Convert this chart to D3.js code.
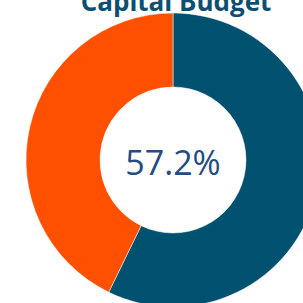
<!DOCTYPE html>
<html>
<head>
<meta charset="utf-8">
<script src="https://cdn.jsdelivr.net/npm/d3@7"></script>
<style>
  html, body { margin: 0; padding: 0; background: #fff; }
  svg { display: block; }
</style>
</head>
<body>
<div id="chart"></div>
<script>
const categories = ["Spent", "Remaining"]
const values = [57.2, 42.8]
const colors = ["#00506f", "#ff5000"]
const title = "Capital Budget"
const centerLabel = "57.2%"

const width = 303, height = 303
const cx = 173, cy = 160
const outerR = 147, innerR = 73

const svg = d3.select("#chart")
  .append("svg")
  .attr("width", width)
  .attr("height", height)

const pie = d3.pie().sort(null).value(d => d)
const arc = d3.arc().innerRadius(innerR).outerRadius(outerR)

const g = svg.append("g")
  .attr("transform", `translate(${cx},${cy})`)

g.selectAll("path")
  .data(pie(values))
  .join("path")
    .attr("fill", (d, i) => colors[i])
    .attr("stroke", "#fff")
    .attr("stroke-width", 0.5)
    .attr("d", arc)
  .append("title")
    .text((d, i) => `${categories[i]}: ${values[i]}%`)

g.append("text")
  .attr("text-anchor", "middle")
  .attr("y", 15)
  .attr("font-family", "Open Sans")
  .attr("font-size", 34)
  .attr("fill", "#234d80")
  .text(centerLabel)

// title sits partly above the top edge, as in the original
svg.append("text")
  .attr("x", 176)
  .attr("y", 11)
  .attr("text-anchor", "middle")
  .attr("font-family", "Open Sans")
  .attr("font-weight", "bold")
  .attr("font-size", 26)
  .attr("fill", "#0d4f70")
  .text(title)
</script>
</body>
</html>
